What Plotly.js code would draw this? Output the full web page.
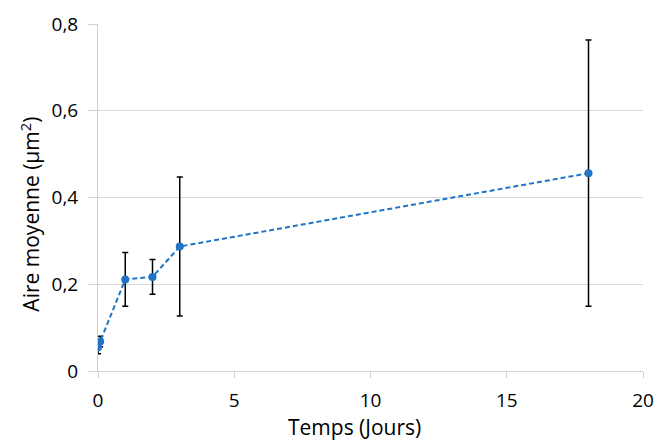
<!DOCTYPE html>
<html>
<head>
<meta charset="utf-8">
<script src="https://cdn.plot.ly/plotly-3.0.1.min.js"></script>
<style>html,body{margin:0;padding:0;background:#fff}#chart{width:660px;height:441px}</style>
</head>
<body>
<div id="chart"></div>
<script>
// Data
const days = [0, 0.08, 1, 2, 3, 18];
const meanArea = [0.055, 0.068, 0.211, 0.217, 0.287, 0.456];
const errArea = [0.015, 0.012, 0.062, 0.040, 0.160, 0.307];
const xTickVals = [0, 5, 10, 15, 20];
const yTickVals = [0, 0.2, 0.4, 0.6, 0.8];
const yTickText = ['0', '0,2', '0,4', '0,6', '0,8'];
const xTitle = 'Temps (Jours)';
const yTitle = 'Aire moyenne (µm<sup>2</sup>)';

const font = "'Open Sans', 'Liberation Sans', sans-serif";

const trace = {
  x: days,
  y: meanArea,
  type: 'scatter',
  mode: 'lines+markers',
  line: {color: '#1f74c6', width: 2, dash: '5px,3px'},
  marker: {color: '#1f74c6', size: 8},
  error_y: {type: 'data', array: errArea, visible: true, color: '#000000', thickness: 1.5, width: 3},
  hoverinfo: 'x+y'
};

const layout = {
  width: 660,
  height: 441,
  margin: {l: 97.5, r: 16.5, t: 24, b: 70},
  paper_bgcolor: '#ffffff',
  plot_bgcolor: '#ffffff',
  showlegend: false,
  font: {family: font, color: '#000000', size: 18},
  xaxis: {
    range: [0, 20],
    tickvals: xTickVals,
    ticktext: xTickVals.map(String),
    showgrid: false,
    zeroline: false,
    showline: true,
    linecolor: '#d0d0d0',
    linewidth: 1,
    ticks: 'outside',
    ticklen: 6,
    tickcolor: '#d0d0d0',
    ticklabelstandoff: 6,
    tickfont: {family: font, size: 19, color: '#000'},
    fixedrange: true
  },
  yaxis: {
    range: [0, 0.8],
    tickvals: yTickVals,
    ticktext: yTickText,
    showgrid: true,
    gridcolor: '#d9d9d9',
    gridwidth: 1,
    zeroline: false,
    showline: true,
    linecolor: '#d0d0d0',
    linewidth: 1,
    ticks: 'outside',
    ticklen: 9,
    tickcolor: '#d0d0d0',
    ticklabelstandoff: 6,
    tickfont: {family: font, size: 19, color: '#000'},
    fixedrange: true
  },
  annotations: [
    {text: xTitle, xref: 'paper', yref: 'paper', x: (354 - 97.5) / 546, y: (371 - 427) / 347,
     xanchor: 'center', yanchor: 'middle', showarrow: false, font: {family: font, size: 21, color: '#000'}},
    {text: yTitle, xref: 'paper', yref: 'paper', x: (29 - 97.5) / 546, y: (371 - 214) / 347,
     xanchor: 'center', yanchor: 'middle', textangle: -90, showarrow: false, font: {family: font, size: 21, color: '#000'}}
  ]
};

Plotly.newPlot('chart', [trace], layout, {displayModeBar: false, staticPlot: true});
</script>
</body>
</html>
